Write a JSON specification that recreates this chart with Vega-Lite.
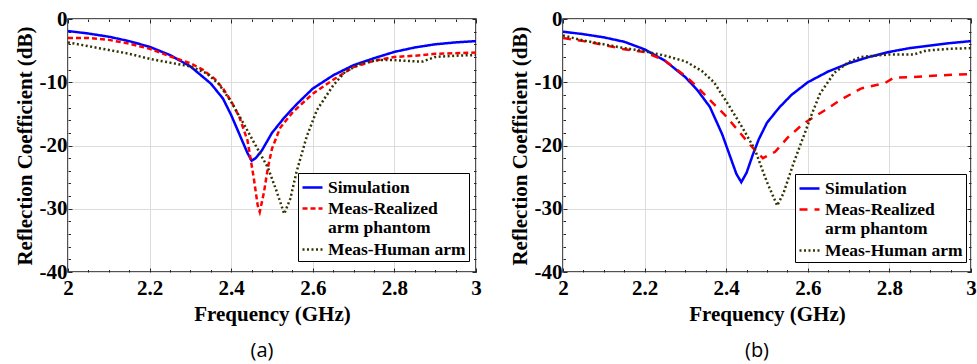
{
  "$schema": "https://vega.github.io/schema/vega-lite/v6.json",
  "padding": {"left": 13, "top": 7, "right": 5, "bottom": 2},
  "background": "white",
  "datasets": {
    "a": [
      {"f": 2.00, "dB": -1.9, "s": "Simulation"},
      {"f": 2.05, "dB": -2.3, "s": "Simulation"},
      {"f": 2.10, "dB": -2.8, "s": "Simulation"},
      {"f": 2.15, "dB": -3.5, "s": "Simulation"},
      {"f": 2.20, "dB": -4.4, "s": "Simulation"},
      {"f": 2.25, "dB": -5.7, "s": "Simulation"},
      {"f": 2.30, "dB": -7.5, "s": "Simulation"},
      {"f": 2.35, "dB": -10.2, "s": "Simulation"},
      {"f": 2.38, "dB": -12.6, "s": "Simulation"},
      {"f": 2.40, "dB": -15.2, "s": "Simulation"},
      {"f": 2.42, "dB": -18.2, "s": "Simulation"},
      {"f": 2.44, "dB": -21.2, "s": "Simulation"},
      {"f": 2.45, "dB": -22.4, "s": "Simulation"},
      {"f": 2.46, "dB": -22.0, "s": "Simulation"},
      {"f": 2.475, "dB": -20.8, "s": "Simulation"},
      {"f": 2.50, "dB": -18.0, "s": "Simulation"},
      {"f": 2.53, "dB": -15.6, "s": "Simulation"},
      {"f": 2.56, "dB": -13.5, "s": "Simulation"},
      {"f": 2.60, "dB": -11.0, "s": "Simulation"},
      {"f": 2.65, "dB": -8.9, "s": "Simulation"},
      {"f": 2.70, "dB": -7.3, "s": "Simulation"},
      {"f": 2.75, "dB": -6.2, "s": "Simulation"},
      {"f": 2.80, "dB": -5.2, "s": "Simulation"},
      {"f": 2.85, "dB": -4.5, "s": "Simulation"},
      {"f": 2.90, "dB": -4.0, "s": "Simulation"},
      {"f": 2.95, "dB": -3.7, "s": "Simulation"},
      {"f": 3.00, "dB": -3.5, "s": "Simulation"},
      {"f": 2.00, "dB": -3.0, "s": "Meas-Realized arm phantom"},
      {"f": 2.05, "dB": -3.0, "s": "Meas-Realized arm phantom"},
      {"f": 2.10, "dB": -3.3, "s": "Meas-Realized arm phantom"},
      {"f": 2.15, "dB": -3.9, "s": "Meas-Realized arm phantom"},
      {"f": 2.20, "dB": -4.7, "s": "Meas-Realized arm phantom"},
      {"f": 2.25, "dB": -5.9, "s": "Meas-Realized arm phantom"},
      {"f": 2.30, "dB": -7.0, "s": "Meas-Realized arm phantom"},
      {"f": 2.33, "dB": -8.0, "s": "Meas-Realized arm phantom"},
      {"f": 2.36, "dB": -9.5, "s": "Meas-Realized arm phantom"},
      {"f": 2.38, "dB": -11.0, "s": "Meas-Realized arm phantom"},
      {"f": 2.40, "dB": -13.0, "s": "Meas-Realized arm phantom"},
      {"f": 2.42, "dB": -15.5, "s": "Meas-Realized arm phantom"},
      {"f": 2.44, "dB": -19.2, "s": "Meas-Realized arm phantom"},
      {"f": 2.455, "dB": -25.0, "s": "Meas-Realized arm phantom"},
      {"f": 2.465, "dB": -29.5, "s": "Meas-Realized arm phantom"},
      {"f": 2.47, "dB": -30.5, "s": "Meas-Realized arm phantom"},
      {"f": 2.48, "dB": -27.5, "s": "Meas-Realized arm phantom"},
      {"f": 2.49, "dB": -23.5, "s": "Meas-Realized arm phantom"},
      {"f": 2.50, "dB": -20.5, "s": "Meas-Realized arm phantom"},
      {"f": 2.52, "dB": -17.2, "s": "Meas-Realized arm phantom"},
      {"f": 2.55, "dB": -14.8, "s": "Meas-Realized arm phantom"},
      {"f": 2.60, "dB": -11.8, "s": "Meas-Realized arm phantom"},
      {"f": 2.65, "dB": -9.6, "s": "Meas-Realized arm phantom"},
      {"f": 2.70, "dB": -7.6, "s": "Meas-Realized arm phantom"},
      {"f": 2.75, "dB": -6.6, "s": "Meas-Realized arm phantom"},
      {"f": 2.80, "dB": -6.0, "s": "Meas-Realized arm phantom"},
      {"f": 2.85, "dB": -5.8, "s": "Meas-Realized arm phantom"},
      {"f": 2.90, "dB": -5.5, "s": "Meas-Realized arm phantom"},
      {"f": 2.95, "dB": -5.4, "s": "Meas-Realized arm phantom"},
      {"f": 3.00, "dB": -5.3, "s": "Meas-Realized arm phantom"},
      {"f": 2.00, "dB": -3.7, "s": "Meas-Human arm"},
      {"f": 2.05, "dB": -4.3, "s": "Meas-Human arm"},
      {"f": 2.10, "dB": -4.9, "s": "Meas-Human arm"},
      {"f": 2.15, "dB": -5.5, "s": "Meas-Human arm"},
      {"f": 2.20, "dB": -6.3, "s": "Meas-Human arm"},
      {"f": 2.25, "dB": -6.9, "s": "Meas-Human arm"},
      {"f": 2.30, "dB": -7.5, "s": "Meas-Human arm"},
      {"f": 2.34, "dB": -8.6, "s": "Meas-Human arm"},
      {"f": 2.37, "dB": -10.3, "s": "Meas-Human arm"},
      {"f": 2.40, "dB": -13.1, "s": "Meas-Human arm"},
      {"f": 2.43, "dB": -16.5, "s": "Meas-Human arm"},
      {"f": 2.46, "dB": -20.0, "s": "Meas-Human arm"},
      {"f": 2.49, "dB": -23.5, "s": "Meas-Human arm"},
      {"f": 2.51, "dB": -27.0, "s": "Meas-Human arm"},
      {"f": 2.53, "dB": -30.8, "s": "Meas-Human arm"},
      {"f": 2.545, "dB": -28.4, "s": "Meas-Human arm"},
      {"f": 2.56, "dB": -24.2, "s": "Meas-Human arm"},
      {"f": 2.585, "dB": -18.6, "s": "Meas-Human arm"},
      {"f": 2.61, "dB": -14.4, "s": "Meas-Human arm"},
      {"f": 2.65, "dB": -10.5, "s": "Meas-Human arm"},
      {"f": 2.68, "dB": -8.3, "s": "Meas-Human arm"},
      {"f": 2.72, "dB": -7.0, "s": "Meas-Human arm"},
      {"f": 2.76, "dB": -6.5, "s": "Meas-Human arm"},
      {"f": 2.80, "dB": -6.5, "s": "Meas-Human arm"},
      {"f": 2.85, "dB": -6.7, "s": "Meas-Human arm"},
      {"f": 2.87, "dB": -6.7, "s": "Meas-Human arm"},
      {"f": 2.90, "dB": -6.0, "s": "Meas-Human arm"},
      {"f": 2.95, "dB": -5.8, "s": "Meas-Human arm"},
      {"f": 3.00, "dB": -5.7, "s": "Meas-Human arm"}
    ],
    "b": [
      {"f": 2.00, "dB": -2.0, "s": "Simulation"},
      {"f": 2.05, "dB": -2.4, "s": "Simulation"},
      {"f": 2.10, "dB": -2.9, "s": "Simulation"},
      {"f": 2.15, "dB": -3.6, "s": "Simulation"},
      {"f": 2.20, "dB": -4.8, "s": "Simulation"},
      {"f": 2.25, "dB": -6.6, "s": "Simulation"},
      {"f": 2.30, "dB": -9.2, "s": "Simulation"},
      {"f": 2.33, "dB": -11.3, "s": "Simulation"},
      {"f": 2.36, "dB": -13.9, "s": "Simulation"},
      {"f": 2.39, "dB": -18.2, "s": "Simulation"},
      {"f": 2.41, "dB": -21.8, "s": "Simulation"},
      {"f": 2.425, "dB": -24.5, "s": "Simulation"},
      {"f": 2.437, "dB": -25.8, "s": "Simulation"},
      {"f": 2.45, "dB": -24.3, "s": "Simulation"},
      {"f": 2.465, "dB": -21.5, "s": "Simulation"},
      {"f": 2.48, "dB": -19.0, "s": "Simulation"},
      {"f": 2.50, "dB": -16.4, "s": "Simulation"},
      {"f": 2.53, "dB": -14.0, "s": "Simulation"},
      {"f": 2.56, "dB": -12.0, "s": "Simulation"},
      {"f": 2.60, "dB": -10.0, "s": "Simulation"},
      {"f": 2.65, "dB": -8.3, "s": "Simulation"},
      {"f": 2.70, "dB": -7.0, "s": "Simulation"},
      {"f": 2.75, "dB": -6.0, "s": "Simulation"},
      {"f": 2.80, "dB": -5.2, "s": "Simulation"},
      {"f": 2.85, "dB": -4.6, "s": "Simulation"},
      {"f": 2.90, "dB": -4.2, "s": "Simulation"},
      {"f": 2.95, "dB": -3.8, "s": "Simulation"},
      {"f": 3.00, "dB": -3.5, "s": "Simulation"},
      {"f": 2.00, "dB": -3.0, "s": "Meas-Realized arm phantom"},
      {"f": 2.05, "dB": -3.5, "s": "Meas-Realized arm phantom"},
      {"f": 2.10, "dB": -4.1, "s": "Meas-Realized arm phantom"},
      {"f": 2.15, "dB": -4.8, "s": "Meas-Realized arm phantom"},
      {"f": 2.20, "dB": -5.2, "s": "Meas-Realized arm phantom"},
      {"f": 2.25, "dB": -6.6, "s": "Meas-Realized arm phantom"},
      {"f": 2.30, "dB": -9.0, "s": "Meas-Realized arm phantom"},
      {"f": 2.33, "dB": -10.8, "s": "Meas-Realized arm phantom"},
      {"f": 2.36, "dB": -12.8, "s": "Meas-Realized arm phantom"},
      {"f": 2.40, "dB": -15.4, "s": "Meas-Realized arm phantom"},
      {"f": 2.43, "dB": -17.7, "s": "Meas-Realized arm phantom"},
      {"f": 2.46, "dB": -20.0, "s": "Meas-Realized arm phantom"},
      {"f": 2.49, "dB": -22.0, "s": "Meas-Realized arm phantom"},
      {"f": 2.52, "dB": -21.0, "s": "Meas-Realized arm phantom"},
      {"f": 2.55, "dB": -18.8, "s": "Meas-Realized arm phantom"},
      {"f": 2.59, "dB": -16.5, "s": "Meas-Realized arm phantom"},
      {"f": 2.64, "dB": -14.5, "s": "Meas-Realized arm phantom"},
      {"f": 2.68, "dB": -12.8, "s": "Meas-Realized arm phantom"},
      {"f": 2.73, "dB": -11.0, "s": "Meas-Realized arm phantom"},
      {"f": 2.79, "dB": -10.1, "s": "Meas-Realized arm phantom"},
      {"f": 2.81, "dB": -9.3, "s": "Meas-Realized arm phantom"},
      {"f": 2.85, "dB": -9.2, "s": "Meas-Realized arm phantom"},
      {"f": 2.93, "dB": -8.9, "s": "Meas-Realized arm phantom"},
      {"f": 3.00, "dB": -8.7, "s": "Meas-Realized arm phantom"},
      {"f": 2.00, "dB": -2.6, "s": "Meas-Human arm"},
      {"f": 2.05, "dB": -3.4, "s": "Meas-Human arm"},
      {"f": 2.10, "dB": -4.0, "s": "Meas-Human arm"},
      {"f": 2.15, "dB": -4.6, "s": "Meas-Human arm"},
      {"f": 2.20, "dB": -5.1, "s": "Meas-Human arm"},
      {"f": 2.25, "dB": -5.8, "s": "Meas-Human arm"},
      {"f": 2.30, "dB": -6.7, "s": "Meas-Human arm"},
      {"f": 2.34, "dB": -8.2, "s": "Meas-Human arm"},
      {"f": 2.37, "dB": -10.0, "s": "Meas-Human arm"},
      {"f": 2.40, "dB": -13.0, "s": "Meas-Human arm"},
      {"f": 2.44, "dB": -17.2, "s": "Meas-Human arm"},
      {"f": 2.47, "dB": -20.6, "s": "Meas-Human arm"},
      {"f": 2.50, "dB": -25.8, "s": "Meas-Human arm"},
      {"f": 2.525, "dB": -29.5, "s": "Meas-Human arm"},
      {"f": 2.54, "dB": -27.6, "s": "Meas-Human arm"},
      {"f": 2.565, "dB": -22.8, "s": "Meas-Human arm"},
      {"f": 2.59, "dB": -18.5, "s": "Meas-Human arm"},
      {"f": 2.61, "dB": -15.0, "s": "Meas-Human arm"},
      {"f": 2.63, "dB": -11.8, "s": "Meas-Human arm"},
      {"f": 2.665, "dB": -8.5, "s": "Meas-Human arm"},
      {"f": 2.70, "dB": -6.8, "s": "Meas-Human arm"},
      {"f": 2.73, "dB": -6.0, "s": "Meas-Human arm"},
      {"f": 2.80, "dB": -5.6, "s": "Meas-Human arm"},
      {"f": 2.86, "dB": -5.6, "s": "Meas-Human arm"},
      {"f": 2.89, "dB": -5.0, "s": "Meas-Human arm"},
      {"f": 2.95, "dB": -4.7, "s": "Meas-Human arm"},
      {"f": 3.00, "dB": -4.6, "s": "Meas-Human arm"}
    ]
  },
  "hconcat": [
    {
      "width": 408, "height": 253,
      "data": {"name": "a"},
      "title": {"text": "(a)", "orient": "bottom", "font": "Open Sans", "fontSize": 20, "fontWeight": "normal", "color": "#000", "offset": 16, "dx": -10},
      "layer": [
        {
          "mark": {"type": "line", "strokeWidth": 2.5, "clip": true},
          "encoding": {
            "x": {"field": "f", "type": "quantitative", "scale": {"domain": [2, 3], "nice": false, "zero": false},
              "axis": {"orient": "bottom", "title": "Frequency (GHz)", "values": [2,2.05,2.1,2.15,2.2,2.25,2.3,2.35,2.4,2.45,2.5,2.55,2.6,2.65,2.7,2.75,2.8,2.85,2.9,2.95,3],
                "labelExpr": "abs(datum.value*5-round(datum.value*5))<0.01 ? ''+round(datum.value*10)/10 : ''",
                "gridOpacity": {"condition": {"test": "abs(datum.value*5-round(datum.value*5))<0.01", "value": 1}, "value": 0},
                "tickSize": {"condition": {"test": "abs(datum.value*5-round(datum.value*5))<0.01", "value": -4}, "value": -2.5},
                "labelPadding": 9, "titlePadding": 4}},
            "y": {"field": "dB", "type": "quantitative", "scale": {"domain": [-40, 0], "nice": false, "zero": false},
              "axis": {"orient": "left", "title": "Reflection Coefficient (dB)", "values": [-40,-38,-36,-34,-32,-30,-28,-26,-24,-22,-20,-18,-16,-14,-12,-10,-8,-6,-4,-2,0],
                "labelExpr": "abs(datum.value%10)<0.01 ? ''+datum.value : ''",
                "gridOpacity": {"condition": {"test": "abs(datum.value%10)<0.01", "value": 1}, "value": 0},
                "tickSize": {"condition": {"test": "abs(datum.value%10)<0.01", "value": -4}, "value": -2.5},
                "labelPadding": 5, "titlePadding": 4}},
            "color": {"field": "s", "type": "nominal",
              "scale": {"domain": ["Simulation", "Meas-Realized arm phantom", "Meas-Human arm"], "range": ["#0000ff", "#ff0000", "#333300"]},
              "legend": {"title": null, "orient": "none", "legendX": 230, "legendY": 154, "labelExpr": "datum.label == 'Meas-Realized arm phantom' ? ['Meas-Realized', 'arm phantom'] : datum.label"}},
            "strokeDash": {"field": "s", "type": "nominal",
              "scale": {"domain": ["Simulation", "Meas-Realized arm phantom", "Meas-Human arm"], "range": [[1, 0], [5, 3], [2, 2.5]]},
              "legend": {"title": null, "orient": "none", "legendX": 230, "legendY": 154, "labelExpr": "datum.label == 'Meas-Realized arm phantom' ? ['Meas-Realized', 'arm phantom'] : datum.label"}}
          }
        },
        {
          "mark": {"type": "line", "opacity": 0},
          "encoding": {
            "x": {"field": "f", "type": "quantitative", "scale": {"domain": [2, 3], "nice": false, "zero": false},
              "axis": {"orient": "top", "title": null, "labels": false, "grid": false, "values": [2,2.05,2.1,2.15,2.2,2.25,2.3,2.35,2.4,2.45,2.5,2.55,2.6,2.65,2.7,2.75,2.8,2.85,2.9,2.95,3],
                "tickSize": {"condition": {"test": "abs(datum.value*5-round(datum.value*5))<0.01", "value": -4}, "value": -2.5}}},
            "y": {"field": "dB", "type": "quantitative", "scale": {"domain": [-40, 0], "nice": false, "zero": false},
              "axis": {"orient": "right", "title": null, "labels": false, "grid": false, "values": [-40,-38,-36,-34,-32,-30,-28,-26,-24,-22,-20,-18,-16,-14,-12,-10,-8,-6,-4,-2,0],
                "tickSize": {"condition": {"test": "abs(datum.value%10)<0.01", "value": -4}, "value": -2.5}}},
            "detail": {"field": "s"}
          }
        }
      ],
      "resolve": {"axis": {"x": "independent", "y": "independent"}}
    },
    {
      "width": 408, "height": 253,
      "data": {"name": "b"},
      "title": {"text": "(b)", "orient": "bottom", "font": "Open Sans", "fontSize": 20, "fontWeight": "normal", "color": "#000", "offset": 16, "dx": -10},
      "layer": [
        {
          "mark": {"type": "line", "strokeWidth": 2.5, "clip": true},
          "encoding": {
            "x": {"field": "f", "type": "quantitative", "scale": {"domain": [2, 3], "nice": false, "zero": false},
              "axis": {"orient": "bottom", "title": "Frequency (GHz)", "values": [2,2.05,2.1,2.15,2.2,2.25,2.3,2.35,2.4,2.45,2.5,2.55,2.6,2.65,2.7,2.75,2.8,2.85,2.9,2.95,3],
                "labelExpr": "abs(datum.value*5-round(datum.value*5))<0.01 ? ''+round(datum.value*10)/10 : ''",
                "gridOpacity": {"condition": {"test": "abs(datum.value*5-round(datum.value*5))<0.01", "value": 1}, "value": 0},
                "tickSize": {"condition": {"test": "abs(datum.value*5-round(datum.value*5))<0.01", "value": -4}, "value": -2.5},
                "labelPadding": 9, "titlePadding": 4}},
            "y": {"field": "dB", "type": "quantitative", "scale": {"domain": [-40, 0], "nice": false, "zero": false},
              "axis": {"orient": "left", "title": "Reflection Coefficient (dB)", "values": [-40,-38,-36,-34,-32,-30,-28,-26,-24,-22,-20,-18,-16,-14,-12,-10,-8,-6,-4,-2,0],
                "labelExpr": "abs(datum.value%10)<0.01 ? ''+datum.value : ''",
                "gridOpacity": {"condition": {"test": "abs(datum.value%10)<0.01", "value": 1}, "value": 0},
                "tickSize": {"condition": {"test": "abs(datum.value%10)<0.01", "value": -4}, "value": -2.5},
                "labelPadding": 5, "titlePadding": 4}},
            "color": {"field": "s", "type": "nominal",
              "scale": {"domain": ["Simulation", "Meas-Realized arm phantom", "Meas-Human arm"], "range": ["#0000ff", "#ff0000", "#333300"]},
              "legend": {"title": null, "orient": "none", "legendX": 232, "legendY": 155, "labelExpr": "datum.label == 'Meas-Realized arm phantom' ? ['Meas-Realized', 'arm phantom'] : datum.label"}},
            "strokeDash": {"field": "s", "type": "nominal",
              "scale": {"domain": ["Simulation", "Meas-Realized arm phantom", "Meas-Human arm"], "range": [[1, 0], [8, 7], [2, 2.5]]},
              "legend": {"title": null, "orient": "none", "legendX": 232, "legendY": 155, "labelExpr": "datum.label == 'Meas-Realized arm phantom' ? ['Meas-Realized', 'arm phantom'] : datum.label"}}
          }
        },
        {
          "mark": {"type": "line", "opacity": 0},
          "encoding": {
            "x": {"field": "f", "type": "quantitative", "scale": {"domain": [2, 3], "nice": false, "zero": false},
              "axis": {"orient": "top", "title": null, "labels": false, "grid": false, "values": [2,2.05,2.1,2.15,2.2,2.25,2.3,2.35,2.4,2.45,2.5,2.55,2.6,2.65,2.7,2.75,2.8,2.85,2.9,2.95,3],
                "tickSize": {"condition": {"test": "abs(datum.value*5-round(datum.value*5))<0.01", "value": -4}, "value": -2.5}}},
            "y": {"field": "dB", "type": "quantitative", "scale": {"domain": [-40, 0], "nice": false, "zero": false},
              "axis": {"orient": "right", "title": null, "labels": false, "grid": false, "values": [-40,-38,-36,-34,-32,-30,-28,-26,-24,-22,-20,-18,-16,-14,-12,-10,-8,-6,-4,-2,0],
                "tickSize": {"condition": {"test": "abs(datum.value%10)<0.01", "value": -4}, "value": -2.5}}},
            "detail": {"field": "s"}
          }
        }
      ],
      "resolve": {"axis": {"x": "independent", "y": "independent"}}
    }
  ],
  "spacing": 26,
  "resolve": {"scale": {"color": "independent", "strokeDash": "independent"}, "legend": {"color": "independent", "strokeDash": "independent"}},
  "config": {
    "view": {"stroke": "#1a1a1a", "strokeWidth": 1.5},
    "axis": {
      "labelFont": "Liberation Serif, Times New Roman, DejaVu Serif, serif", "labelFontWeight": "bold", "labelFontSize": 21, "labelColor": "#000",
      "titleFont": "Liberation Serif, Times New Roman, DejaVu Serif, serif", "titleFontWeight": "bold", "titleFontSize": 21, "titleColor": "#000",
      "domain": false, "tickColor": "#262626", "tickWidth": 1, "gridColor": "#dcdcdc", "gridWidth": 1, "labelOverlap": false, "labelFlush": false
    },
    "legend": {
      "labelFont": "Liberation Serif, Times New Roman, DejaVu Serif, serif", "labelFontWeight": "bold", "labelFontSize": 17.5, "labelColor": "#000", "labelLimit": 300,
      "symbolType": "stroke", "symbolStrokeWidth": 2.5, "symbolSize": 400, "labelOffset": 4, "rowPadding": 1,
      "fillColor": "white", "strokeColor": "#000", "padding": 3
    }
  }
}
